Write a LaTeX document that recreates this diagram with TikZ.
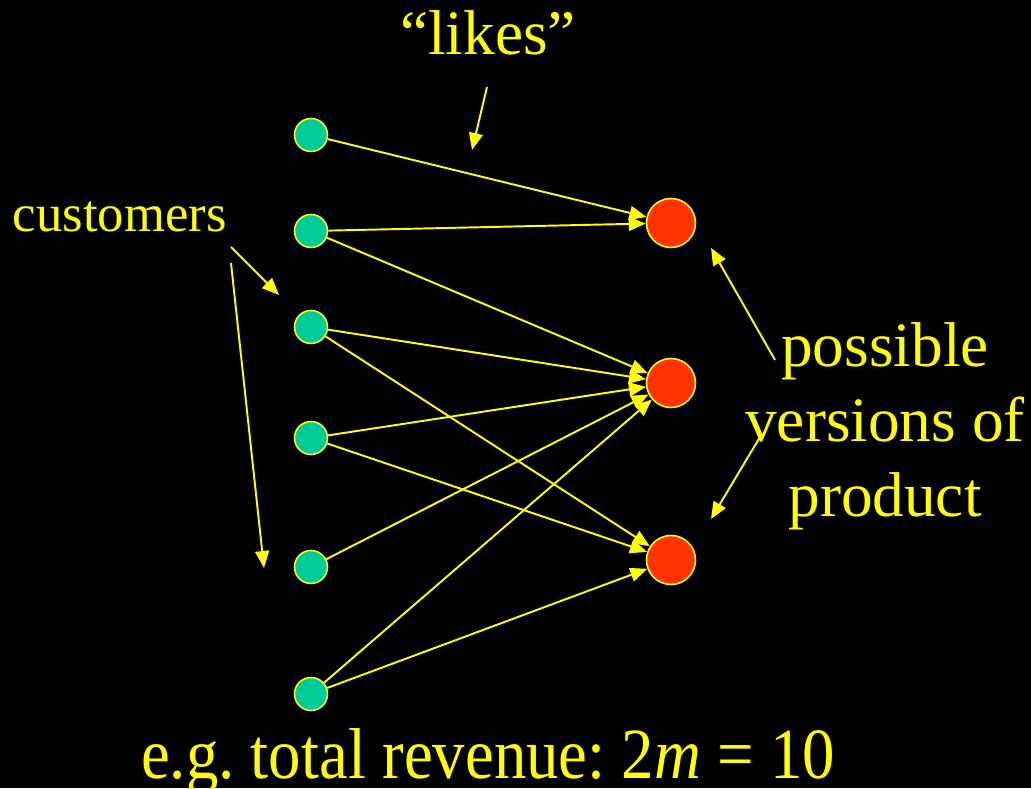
\documentclass[tikz,border=0pt]{standalone}
\usepackage{fontspec}
\usepackage{graphicx}
\setmainfont{Liberation Serif}
\usetikzlibrary{arrows.meta, positioning}
\definecolor{cyell}{HTML}{FFFF00}
\definecolor{cgreen}{HTML}{00CC99}
\definecolor{cred}{HTML}{FF3300}
\tikzset{
  every picture/.style={line width=1.1pt},
  cust/.style={circle, draw=cyell, fill=cgreen, line width=0.9pt, minimum size=0.66cm, inner sep=0pt},
  vers/.style={circle, draw=cyell, fill=cred, line width=0.9pt, minimum size=0.98cm, inner sep=0pt},
  arrow/.style={-{Triangle[length=3.4mm, width=2.8mm]}, draw=cyell, line width=1.1pt},
  label/.style={text=cyell, inner sep=0pt, font=\fontsize{36}{42.7}\selectfont},
}
\frenchspacing

\begin{document}
\begin{tikzpicture}
  \fill[black] (0,0) rectangle (20.62,15.76);
  \useasboundingbox (0,0) rectangle (20.62,15.76);
  % customers and versions
  \foreach \y [count=\i] in {13.06, 11.14, 9.22, 7.0, 4.42, 1.88}
    \node[cust] (g\i) at (6.22, \y) {};
  \foreach \y [count=\j] in {11.3, 8.1, 4.56}
    \node[vers] (r\j) at (13.42, \y) {};
  \foreach \i/\j in {1/1, 2/1, 2/2, 3/2, 3/3, 4/2, 4/3, 5/2, 6/2, 6/3}
    \draw[arrow] (g\i) -- (r\j);
  % labels
  \node[label, anchor=base] (likes) at (9.76, 14.66) {``likes''};
  \node[label, anchor=base west, font=\fontsize{30}{36}\selectfont] (custs) at (0.24, 11.12) {customers};
  \node[label, anchor=base, align=center] (poss) at (17.7, 5.42) {possible\\versions of\\product};
  \node[label, anchor=base, font=\fontsize{41}{48}\selectfont] (rev) at (9.76, 0.2) {\scalebox{0.9}[1]{e.g. total revenue: {\upshape 2}\textit{m} = 10}};
  % pointers
  \coordinate (lk0) at (9.74, 14.02);  \coordinate (lk1) at (9.44, 12.76);
  \coordinate (cu0) at (4.62, 10.82);  \coordinate (cu1) at (5.58, 9.86);
  \coordinate (cu2) at (4.62, 10.5);   \coordinate (cu3) at (5.28, 4.4);
  \coordinate (pv0) at (15.5, 8.56);   \coordinate (pv1) at (14.22, 10.8);
  \coordinate (pv2) at (15.2, 7.02);   \coordinate (pv3) at (14.22, 5.38);
  \draw[arrow] (lk0) -- (lk1);
  \draw[arrow] (cu0) -- (cu1);
  \draw[arrow] (cu2) -- (cu3);
  \draw[arrow] (pv0) -- (pv1);
  \draw[arrow] (pv2) -- (pv3);
\end{tikzpicture}
\end{document}
